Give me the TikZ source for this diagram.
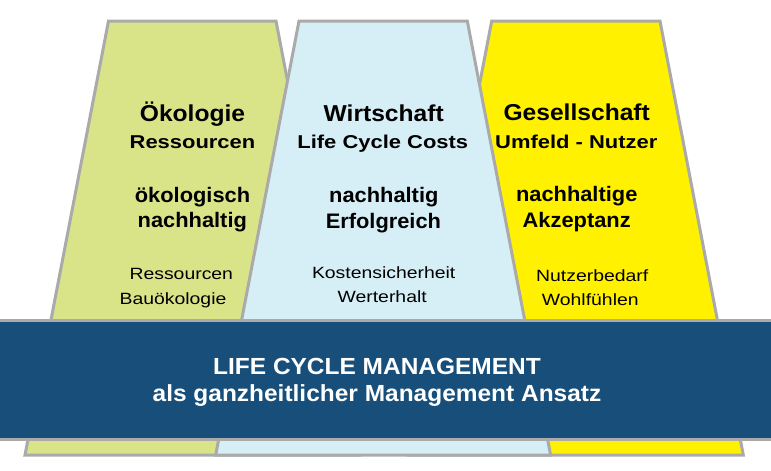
\documentclass[tikz,border=0pt]{standalone}
\usepackage{fontspec}
\setmainfont{Liberation Sans}
\usepackage{graphicx}
\definecolor{ecogreen}{RGB}{217,228,137}
\definecolor{ecoblue}{RGB}{214,238,246}
\definecolor{ecoyellow}{RGB}{255,241,0}
\definecolor{bandblue}{RGB}{23,79,122}
\definecolor{edgegray}{RGB}{170,170,170}
\newcommand{\sx}[2]{\scalebox{#1}[1]{#2}}
\tikzset{
  pillar/.style={draw=edgegray, line width=3pt, line join=miter},
  lbl/.style={anchor=base, inner sep=0pt, text=black},
  headtxt/.style={lbl, font=\fontsize{23}{27}\selectfont\bfseries},
  subtxt/.style={lbl, font=\fontsize{18.6}{22}\selectfont\bfseries},
  midtxt/.style={lbl, font=\fontsize{21}{25}\selectfont\bfseries},
  regtxt/.style={lbl, font=\fontsize{16.3}{19}\selectfont},
  bandtxt/.style={lbl, text=white, font=\fontsize{23.3}{27}\selectfont\bfseries}
}
\begin{document}
\begin{tikzpicture}[x=1pt,y=-1pt]
\useasboundingbox (0,0) rectangle (771,471);
% pillars
\path[pillar, fill=ecogreen] (108.5,21) -- (276,21) -- (359.5,455) -- (25,455) -- cycle;
\path[pillar, fill=ecoyellow] (491.7,21) -- (660,21) -- (743.3,455) -- (408.4,455) -- cycle;
\path[pillar, fill=ecoblue] (299,21) -- (467.3,21) -- (550.6,455) -- (215.7,455) -- cycle;
% band
\fill[bandblue] (0,320.5) rectangle (771,439.3);
\draw[edgegray, line width=3.5pt] (0,320.5) -- (771,320.5);
\draw[edgegray, line width=3.5pt] (0,439.3) -- (771,439.3);
% green texts
\node[headtxt] (oekT) at (192.5,121.5) {\sx{1.07}{Ökologie}};
\node[subtxt] (oekS) at (192.5,148.3) {\sx{1.18}{Ressourcen}};
\node[midtxt] (oek1) at (192.5,202.3) {\sx{1.04}{ökologisch}};
\node[midtxt] (oek2) at (192.3,227.7) {\sx{1.04}{nachhaltig}};
\node[regtxt] (oek3) at (181.3,279.3) {\sx{1.19}{Ressourcen}};
\node[regtxt] (oek4) at (173,304.5) {\sx{1.19}{Bauökologie}};
% blue texts
\node[headtxt] (wirT) at (383.7,121.5) {\sx{1.07}{Wirtschaft}};
\node[subtxt] (wirS) at (382.8,148.3) {\sx{1.18}{Life Cycle Costs}};
\node[midtxt] (wir1) at (383.8,202.3) {\sx{1.04}{nachhaltig}};
\node[midtxt] (wir2) at (383.4,228.3) {\sx{1.04}{Erfolgreich}};
\node[regtxt] (wir3) at (383.7,278.3) {\sx{1.19}{Kostensicherheit}};
\node[regtxt] (wir4) at (382.2,302.3) {\sx{1.19}{Werterhalt}};
% yellow texts
\node[headtxt] (gesT) at (576.7,120.5) {\sx{1.07}{Gesellschaft}};
\node[subtxt] (gesS) at (576.3,148.3) {\sx{1.18}{Umfeld - Nutzer}};
\node[midtxt] (ges1) at (576.7,201.5) {\sx{1.04}{nachhaltige}};
\node[midtxt] (ges2) at (576.7,227.7) {\sx{1.04}{Akzeptanz}};
\node[regtxt] (ges3) at (592.2,281.7) {\sx{1.19}{Nutzerbedarf}};
\node[regtxt] (ges4) at (590.3,305) {\sx{1.19}{Wohlfühlen}};
% band texts
\node[bandtxt] (lcm1) at (377,374.3) {\sx{1.05}{LIFE CYCLE MANAGEMENT}};
\node[bandtxt] (lcm2) at (377,401.7) {\sx{1.05}{als ganzheitlicher Management Ansatz}};
\end{tikzpicture}
\end{document}
